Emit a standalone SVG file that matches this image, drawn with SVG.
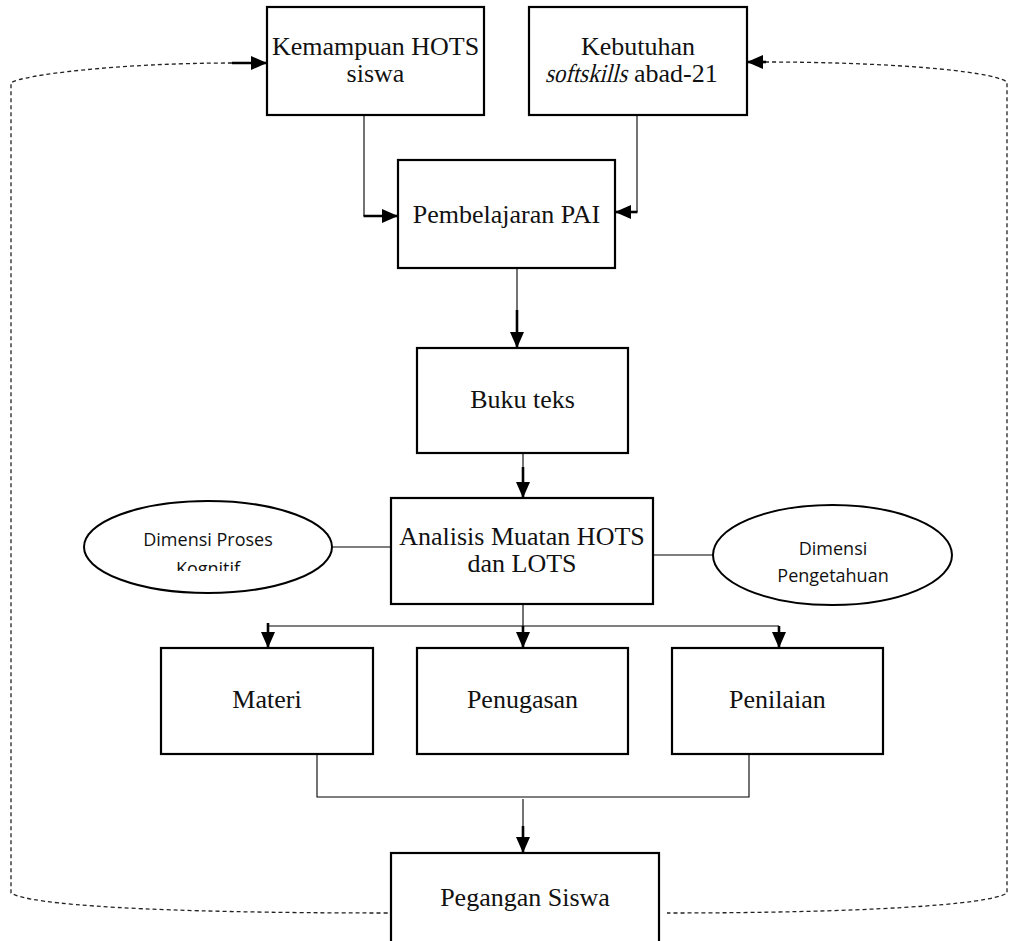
<svg xmlns="http://www.w3.org/2000/svg" width="1010" height="941" viewBox="0 0 1010 941">
<style>
  .box { fill: #fff; stroke: #000; stroke-width: 2.2; }
  .ell { fill: #fff; stroke: #000; stroke-width: 2; }
  .t { font-family: "Liberation Serif", "Times New Roman", serif; font-size: 26px; fill: #111; text-anchor: middle; }
  .ts { font-family: "Liberation Serif", "Times New Roman", serif; font-size: 26px; fill: #111; }
  .s { font-family: "Open Sans", "Liberation Sans", sans-serif; font-size: 18px; fill: #111; text-anchor: middle; }
  .thin { fill: none; stroke: #000; stroke-width: 1.1; }
  .thick { fill: none; stroke: #000; stroke-width: 2.6; marker-end: url(#ah); }
  .dash { fill: none; stroke: #222; stroke-width: 1.3; stroke-dasharray: 4 3; }
</style>
<defs>
  <marker id="ah" markerUnits="userSpaceOnUse" markerWidth="16" markerHeight="15" refX="16" refY="7.5" orient="auto" viewBox="0 0 16 15">
    <path d="M0,0.5 L16,7.5 L0,14.5 Z" fill="#000"/>
  </marker>
  <clipPath id="clipK">
    <rect x="80" y="500" width="260" height="71"/>
  </clipPath>
</defs>
<rect width="1010" height="941" fill="#fff"/>

<g id="connectors">
  <path class="dash" d="M232,63 C120,63 20,75 11,83 L11,893 C30,905 150,913 391,913"/>
  <path class="dash" d="M765,62 C880,62 990,70 1007,82 L1007,893 C990,905 860,913 667,913"/>
  <path class="thick" d="M232,63 H267"/>
  <path class="thick" d="M766,62 H747"/>
  <path class="thin" d="M364,115 V216"/>
  <path class="thick" d="M363.5,216 H398"/>
  <path class="thin" d="M637,115 V212"/>
  <path class="thick" d="M637.5,212 H615"/>
  <path class="thin" d="M517,268 V310"/>
  <path class="thick" d="M517,310 V348"/>
  <path class="thin" d="M523,453 V467"/>
  <path class="thick" d="M523,467 V498"/>
  <path class="thin" d="M332,547 H391"/>
  <path class="thin" d="M653,555 H713"/>
  <path class="thin" d="M523,604 V626 M268,626 H779"/>
  <path class="thick" d="M268,623 V648"/>
  <path class="thick" d="M523,626 V648"/>
  <path class="thick" d="M779,626 V648"/>
  <path class="thin" d="M317,754 V797 H749 V754"/>
  <path class="thin" d="M523,799 V826"/>
  <path class="thick" d="M523,826 V853"/>
</g>

<g id="kemampuan">
  <rect class="box" x="267" y="7" width="217" height="108"/>
  <text class="t" x="375.5" y="55">Kemampuan HOTS</text>
  <text class="t" x="375.5" y="82">siswa</text>
</g>

<g id="kebutuhan">
  <rect class="box" x="529" y="7" width="218" height="108"/>
  <text class="t" x="638" y="55">Kebutuhan</text>
  <text class="ts" transform="translate(545,82) skewX(-14)" x="0" y="0" textLength="82" lengthAdjust="spacingAndGlyphs">softskills</text>
  <text class="ts" x="634" y="82">abad-21</text>
</g>

<g id="pembelajaran">
  <rect class="box" x="398" y="160" width="217" height="108"/>
  <text class="t" x="506.5" y="223">Pembelajaran PAI</text>
</g>

<g id="buku">
  <rect class="box" x="417" y="348" width="211" height="105"/>
  <text class="t" x="522.5" y="408">Buku teks</text>
</g>

<g id="analisis">
  <rect class="box" x="391" y="498" width="262" height="106"/>
  <text class="t" x="522" y="545">Analisis Muatan HOTS</text>
  <text class="t" x="522" y="572">dan LOTS</text>
</g>

<g id="dimensi-proses">
  <ellipse class="ell" cx="208" cy="547" rx="124" ry="46"/>
  <text class="s" x="208" y="546">Dimensi Proses</text>
  <text class="s" x="208" y="575" clip-path="url(#clipK)">Kognitif</text>
</g>

<g id="dimensi-pengetahuan">
  <ellipse class="ell" cx="832.5" cy="555" rx="119.5" ry="50"/>
  <text class="s" x="833" y="555">Dimensi</text>
  <text class="s" x="833" y="582">Pengetahuan</text>
</g>

<g id="materi">
  <rect class="box" x="161" y="648" width="212" height="106"/>
  <text class="t" x="267" y="708">Materi</text>
</g>

<g id="penugasan">
  <rect class="box" x="417" y="648" width="211" height="106"/>
  <text class="t" x="522.5" y="708">Penugasan</text>
</g>

<g id="penilaian">
  <rect class="box" x="672" y="648" width="211" height="106"/>
  <text class="t" x="777.5" y="708">Penilaian</text>
</g>

<g id="pegangan">
  <rect class="box" x="391" y="853" width="268" height="110"/>
  <text class="t" x="525" y="906">Pegangan Siswa</text>
</g>
</svg>
